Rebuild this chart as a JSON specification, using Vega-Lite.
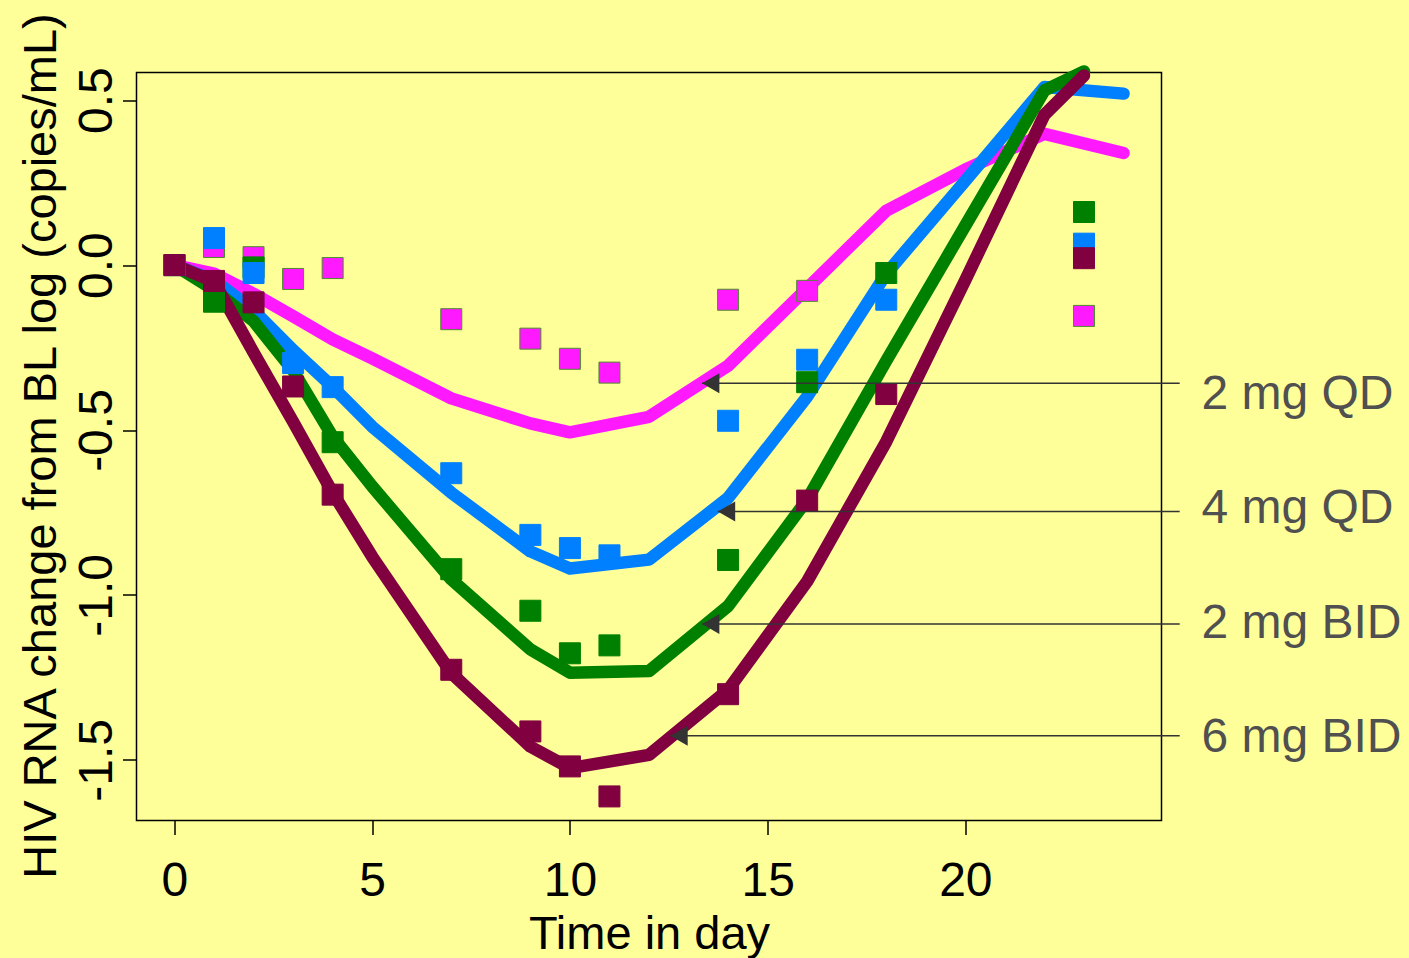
{
  "$schema": "https://vega.github.io/schema/vega-lite/v6.json",
  "width": 1025,
  "height": 748,
  "autosize": {"type": "none"},
  "padding": {"left": 136.5, "top": 72.5, "right": 247.5, "bottom": 137.5},
  "background": "#FFFF99",
  "config": {
    "view": {"stroke": "#000000", "strokeWidth": 1.5, "fill": "#FFFF99"},
    "font": "Liberation Sans"
  },
  "datasets": {
    "lines": [
      {"grp": "2 mg QD", "day": 0, "v": 0},
      {"grp": "2 mg QD", "day": 1, "v": -0.026},
      {"grp": "2 mg QD", "day": 2, "v": -0.087},
      {"grp": "2 mg QD", "day": 3, "v": -0.155},
      {"grp": "2 mg QD", "day": 4, "v": -0.225},
      {"grp": "2 mg QD", "day": 5, "v": -0.283},
      {"grp": "2 mg QD", "day": 7, "v": -0.404},
      {"grp": "2 mg QD", "day": 9, "v": -0.48},
      {"grp": "2 mg QD", "day": 10, "v": -0.507},
      {"grp": "2 mg QD", "day": 12, "v": -0.46},
      {"grp": "2 mg QD", "day": 14, "v": -0.305},
      {"grp": "2 mg QD", "day": 16, "v": -0.07},
      {"grp": "2 mg QD", "day": 18, "v": 0.165},
      {"grp": "2 mg QD", "day": 20, "v": 0.29},
      {"grp": "2 mg QD", "day": 22, "v": 0.398},
      {"grp": "2 mg QD", "day": 24, "v": 0.34},
      {"grp": "4 mg QD", "day": 0, "v": 0},
      {"grp": "4 mg QD", "day": 1, "v": -0.046},
      {"grp": "4 mg QD", "day": 2, "v": -0.137},
      {"grp": "4 mg QD", "day": 3, "v": -0.258},
      {"grp": "4 mg QD", "day": 4, "v": -0.369},
      {"grp": "4 mg QD", "day": 5, "v": -0.49},
      {"grp": "4 mg QD", "day": 7, "v": -0.69},
      {"grp": "4 mg QD", "day": 9, "v": -0.868},
      {"grp": "4 mg QD", "day": 10, "v": -0.92},
      {"grp": "4 mg QD", "day": 12, "v": -0.893},
      {"grp": "4 mg QD", "day": 14, "v": -0.706},
      {"grp": "4 mg QD", "day": 16, "v": -0.399},
      {"grp": "4 mg QD", "day": 18, "v": -0.026},
      {"grp": "4 mg QD", "day": 20, "v": 0.256},
      {"grp": "4 mg QD", "day": 22, "v": 0.54},
      {"grp": "4 mg QD", "day": 24, "v": 0.52},
      {"grp": "2 mg BID", "day": 0, "v": 0},
      {"grp": "2 mg BID", "day": 1, "v": -0.075},
      {"grp": "2 mg BID", "day": 2, "v": -0.17},
      {"grp": "2 mg BID", "day": 3, "v": -0.32},
      {"grp": "2 mg BID", "day": 4, "v": -0.52},
      {"grp": "2 mg BID", "day": 5, "v": -0.671},
      {"grp": "2 mg BID", "day": 7, "v": -0.953},
      {"grp": "2 mg BID", "day": 9, "v": -1.165},
      {"grp": "2 mg BID", "day": 10, "v": -1.236},
      {"grp": "2 mg BID", "day": 12, "v": -1.231},
      {"grp": "2 mg BID", "day": 14, "v": -1.034},
      {"grp": "2 mg BID", "day": 16, "v": -0.711},
      {"grp": "2 mg BID", "day": 18, "v": -0.29},
      {"grp": "2 mg BID", "day": 20, "v": 0.12},
      {"grp": "2 mg BID", "day": 22, "v": 0.53},
      {"grp": "2 mg BID", "day": 23, "v": 0.587},
      {"grp": "6 mg BID", "day": 0, "v": 0},
      {"grp": "6 mg BID", "day": 1, "v": -0.05},
      {"grp": "6 mg BID", "day": 2, "v": -0.265},
      {"grp": "6 mg BID", "day": 3, "v": -0.475},
      {"grp": "6 mg BID", "day": 4, "v": -0.69},
      {"grp": "6 mg BID", "day": 5, "v": -0.884},
      {"grp": "6 mg BID", "day": 7, "v": -1.237},
      {"grp": "6 mg BID", "day": 9, "v": -1.46},
      {"grp": "6 mg BID", "day": 10, "v": -1.525},
      {"grp": "6 mg BID", "day": 12, "v": -1.485},
      {"grp": "6 mg BID", "day": 14, "v": -1.288},
      {"grp": "6 mg BID", "day": 16, "v": -0.959},
      {"grp": "6 mg BID", "day": 18, "v": -0.535},
      {"grp": "6 mg BID", "day": 20, "v": -0.045},
      {"grp": "6 mg BID", "day": 22, "v": 0.456},
      {"grp": "6 mg BID", "day": 23, "v": 0.575}
    ],
    "pts": [
      {"grp": "2 mg QD", "day": 0, "v": 0},
      {"grp": "2 mg QD", "day": 1, "v": 0.055},
      {"grp": "2 mg QD", "day": 2, "v": 0.024},
      {"grp": "2 mg QD", "day": 3, "v": -0.042},
      {"grp": "2 mg QD", "day": 4, "v": -0.009},
      {"grp": "2 mg QD", "day": 7, "v": -0.164},
      {"grp": "2 mg QD", "day": 9, "v": -0.223},
      {"grp": "2 mg QD", "day": 10, "v": -0.284},
      {"grp": "2 mg QD", "day": 11, "v": -0.326},
      {"grp": "2 mg QD", "day": 14, "v": -0.105},
      {"grp": "2 mg QD", "day": 16, "v": -0.078},
      {"grp": "2 mg QD", "day": 23, "v": -0.154},
      {"grp": "2 mg BID", "day": 0, "v": 0},
      {"grp": "2 mg BID", "day": 1, "v": -0.111},
      {"grp": "2 mg BID", "day": 2, "v": -0.007},
      {"grp": "2 mg BID", "day": 4, "v": -0.537},
      {"grp": "2 mg BID", "day": 7, "v": -0.922},
      {"grp": "2 mg BID", "day": 9, "v": -1.048},
      {"grp": "2 mg BID", "day": 10, "v": -1.177},
      {"grp": "2 mg BID", "day": 11, "v": -1.153},
      {"grp": "2 mg BID", "day": 14, "v": -0.894},
      {"grp": "2 mg BID", "day": 16, "v": -0.355},
      {"grp": "2 mg BID", "day": 18, "v": -0.024},
      {"grp": "2 mg BID", "day": 23, "v": 0.161},
      {"grp": "4 mg QD", "day": 0, "v": 0},
      {"grp": "4 mg QD", "day": 1, "v": 0.082},
      {"grp": "4 mg QD", "day": 2, "v": -0.024},
      {"grp": "4 mg QD", "day": 3, "v": -0.297},
      {"grp": "4 mg QD", "day": 4, "v": -0.37},
      {"grp": "4 mg QD", "day": 7, "v": -0.631},
      {"grp": "4 mg QD", "day": 9, "v": -0.818},
      {"grp": "4 mg QD", "day": 10, "v": -0.858},
      {"grp": "4 mg QD", "day": 11, "v": -0.88},
      {"grp": "4 mg QD", "day": 14, "v": -0.472},
      {"grp": "4 mg QD", "day": 16, "v": -0.287},
      {"grp": "4 mg QD", "day": 18, "v": -0.105},
      {"grp": "4 mg QD", "day": 23, "v": 0.065},
      {"grp": "6 mg BID", "day": 0, "v": 0},
      {"grp": "6 mg BID", "day": 1, "v": -0.048},
      {"grp": "6 mg BID", "day": 2, "v": -0.113},
      {"grp": "6 mg BID", "day": 3, "v": -0.368},
      {"grp": "6 mg BID", "day": 4, "v": -0.696},
      {"grp": "6 mg BID", "day": 7, "v": -1.227},
      {"grp": "6 mg BID", "day": 9, "v": -1.414},
      {"grp": "6 mg BID", "day": 10, "v": -1.52},
      {"grp": "6 mg BID", "day": 11, "v": -1.611},
      {"grp": "6 mg BID", "day": 14, "v": -1.301},
      {"grp": "6 mg BID", "day": 16, "v": -0.714},
      {"grp": "6 mg BID", "day": 18, "v": -0.391},
      {"grp": "6 mg BID", "day": 23, "v": 0.021}
    ],
    "arrows": [
      {"label": "2 mg QD", "tip": 13.34, "head": 13.56, "end": 25.42, "v": -0.358, "lv": -0.437},
      {"label": "4 mg QD", "tip": 13.74, "head": 13.96, "end": 25.42, "v": -0.747, "lv": -0.782},
      {"label": "2 mg BID", "tip": 13.34, "head": 13.56, "end": 25.42, "v": -1.088, "lv": -1.131},
      {"label": "6 mg BID", "tip": 12.54, "head": 12.76, "end": 25.42, "v": -1.427, "lv": -1.475}
    ]
  },
  "layer": [
    {
      "data": {"name": "lines"},
      "mark": {"type": "line", "strokeWidth": 12.5, "strokeCap": "round", "strokeJoin": "round"},
      "encoding": {
        "x": {
          "field": "day", "type": "quantitative",
          "scale": {"domain": [-0.96, 24.96], "nice": false, "zero": false},
          "axis": {
            "values": [0, 5, 10, 15, 20], "format": "d",
            "domain": false, "grid": false,
            "tickSize": 14, "tickWidth": 1.5, "tickColor": "#000000",
            "labelFont": "Liberation Sans", "labelFontSize": 48, "labelColor": "#000000",
            "labelBaseline": "alphabetic", "labelPadding": 61, "labelFlush": false, "labelOverlap": false,
            "title": "Time in day", "titleFont": "Liberation Sans", "titleFontSize": 47,
            "titleFontWeight": "normal", "titleColor": "#000000",
            "titleBaseline": "alphabetic", "titleAlign": "center", "titleX": 512.5, "titleY": 127.6
          }
        },
        "y": {
          "field": "v", "type": "quantitative",
          "scale": {"domain": [-1.684, 0.584], "nice": false, "zero": false},
          "axis": {
            "values": [-1.5, -1, -0.5, 0, 0.5],
            "labelExpr": "replace(format(datum.value, '.1f'), '−', '-')",
            "domain": false, "grid": false,
            "tickSize": 14, "tickWidth": 1.5, "tickColor": "#000000",
            "labelFont": "Liberation Sans", "labelFontSize": 48, "labelColor": "#000000",
            "labelAngle": 270, "labelAlign": "center", "labelBaseline": "alphabetic",
            "labelPadding": 11, "labelFlush": false, "labelOverlap": false,
            "title": "HIV RNA change from BL log (copies/mL)", "titleFont": "Liberation Sans",
            "titleFontSize": 47, "titleFontWeight": "normal", "titleColor": "#000000",
            "titleAngle": 270, "titleAlign": "center", "titleBaseline": "alphabetic",
            "titleX": -81.5, "titleY": 373
          }
        },
        "color": {
          "field": "grp", "type": "nominal",
          "scale": {"domain": ["2 mg QD", "4 mg QD", "2 mg BID", "6 mg BID"], "range": ["#FF19FF", "#0080FF", "#008000", "#800040"]},
          "legend": null
        }
      }
    },
    {
      "data": {"name": "pts"},
      "mark": {"type": "point", "shape": "square", "filled": true, "size": 441, "opacity": 1, "strokeWidth": 1},
      "encoding": {
        "x": {"field": "day", "type": "quantitative"},
        "y": {"field": "v", "type": "quantitative"},
        "color": {"field": "grp", "type": "nominal", "legend": null},
        "stroke": {
          "field": "grp", "type": "nominal",
          "scale": {"domain": ["2 mg QD", "4 mg QD", "2 mg BID", "6 mg BID"], "range": ["#4C8C2C", "#0080FF", "#008000", "#800040"]},
          "legend": null
        }
      }
    },
    {
      "data": {"name": "arrows"},
      "mark": {"type": "rule", "color": "#333333", "strokeWidth": 1.5},
      "encoding": {
        "x": {"field": "tip", "type": "quantitative"},
        "x2": {"field": "end"},
        "y": {"field": "v", "type": "quantitative"}
      }
    },
    {
      "data": {"name": "arrows"},
      "mark": {"type": "point", "shape": "triangle-left", "filled": true, "size": 400, "color": "#333333", "opacity": 1},
      "encoding": {
        "x": {"field": "head", "type": "quantitative"},
        "y": {"field": "v", "type": "quantitative"}
      }
    },
    {
      "data": {"name": "arrows"},
      "mark": {"type": "text", "align": "left", "baseline": "alphabetic", "font": "Liberation Sans", "fontSize": 48, "color": "#505050"},
      "encoding": {
        "x": {"datum": 25.97, "type": "quantitative"},
        "y": {"field": "lv", "type": "quantitative"},
        "text": {"field": "label"}
      }
    }
  ]
}
